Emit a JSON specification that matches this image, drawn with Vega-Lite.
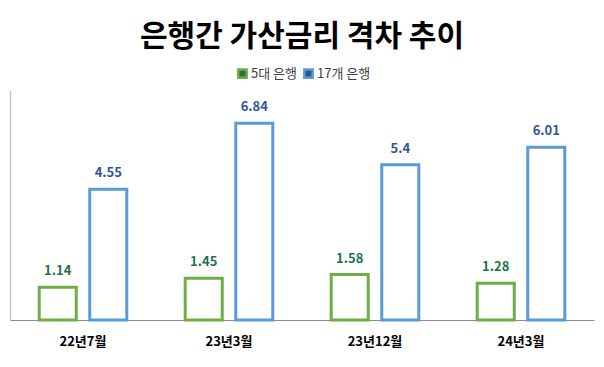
{
  "$schema": "https://vega.github.io/schema/vega-lite/v6.json",
  "width": 584,
  "height": 230,
  "autosize": {"type": "none"},
  "padding": {"left": 10, "top": 90, "right": 10, "bottom": 47},
  "background": "white",
  "title": {
    "text": "은행간 가산금리 격차 추이",
    "font": "Noto Sans CJK KR",
    "fontSize": 30,
    "fontWeight": "bold",
    "color": "#000000",
    "anchor": "middle",
    "frame": "group",
    "offset": 15
  },
  "data": {
    "values": [
      {"period": "22년7월", "series": "5대 은행", "value": 1.14},
      {"period": "22년7월", "series": "17개 은행", "value": 4.55},
      {"period": "23년3월", "series": "5대 은행", "value": 1.45},
      {"period": "23년3월", "series": "17개 은행", "value": 6.84},
      {"period": "23년12월", "series": "5대 은행", "value": 1.58},
      {"period": "23년12월", "series": "17개 은행", "value": 5.4},
      {"period": "24년3월", "series": "5대 은행", "value": 1.28},
      {"period": "24년3월", "series": "17개 은행", "value": 6.01}
    ]
  },
  "encoding": {
    "x": {
      "field": "period",
      "type": "nominal",
      "sort": null,
      "scale": {"paddingInner": 0.4, "paddingOuter": 0.2},
      "axis": {
        "title": null,
        "labelAngle": 0,
        "ticks": false,
        "labelPadding": 15,
        "labelFont": "Noto Sans CJK KR",
        "labelFontSize": 13,
        "labelFontWeight": "bold",
        "labelColor": "#000000",
        "domainColor": "#8c8c8c",
        "domainWidth": 1
      }
    },
    "xOffset": {
      "field": "series",
      "type": "nominal",
      "sort": ["5대 은행", "17개 은행"],
      "scale": {"paddingInner": 0.267, "paddingOuter": 0}
    },
    "y": {
      "field": "value",
      "type": "quantitative",
      "scale": {"domain": [0, 8]},
      "axis": {
        "title": null,
        "labels": false,
        "ticks": false,
        "grid": false,
        "domainColor": "#c8c8c8",
        "domainWidth": 1.5
      }
    }
  },
  "layer": [
    {
      "mark": {"type": "bar", "fill": "white", "strokeWidth": 3},
      "encoding": {
        "stroke": {
          "field": "series",
          "type": "nominal",
          "sort": ["5대 은행", "17개 은행"],
          "scale": {"domain": ["5대 은행", "17개 은행"], "range": ["#70AD47", "#5B9BD5"]},
          "legend": {
            "title": null,
            "orient": "none",
            "direction": "horizontal",
            "legendX": 226,
            "legendY": -23,
            "symbolType": "square",
            "symbolSize": 70,
            "symbolStrokeWidth": 2.5,
            "symbolFillColor": "white",
            "labelFont": "Noto Sans CJK KR",
            "labelFontSize": 13,
            "labelColor": "#404040",
            "labelOffset": 2,
            "columnPadding": 1
          }
        }
      }
    },
    {
      "mark": {
        "type": "text",
        "dy": -16,
        "baseline": "middle",
        "font": "Noto Sans CJK KR",
        "fontSize": 13,
        "fontWeight": "bold"
      },
      "encoding": {
        "text": {"field": "value", "type": "quantitative"},
        "color": {
          "field": "series",
          "type": "nominal",
          "scale": {"domain": ["5대 은행", "17개 은행"], "range": ["#217346", "#2F5597"]},
          "legend": null
        }
      }
    }
  ],
  "config": {
    "view": {"stroke": null}
  }
}
